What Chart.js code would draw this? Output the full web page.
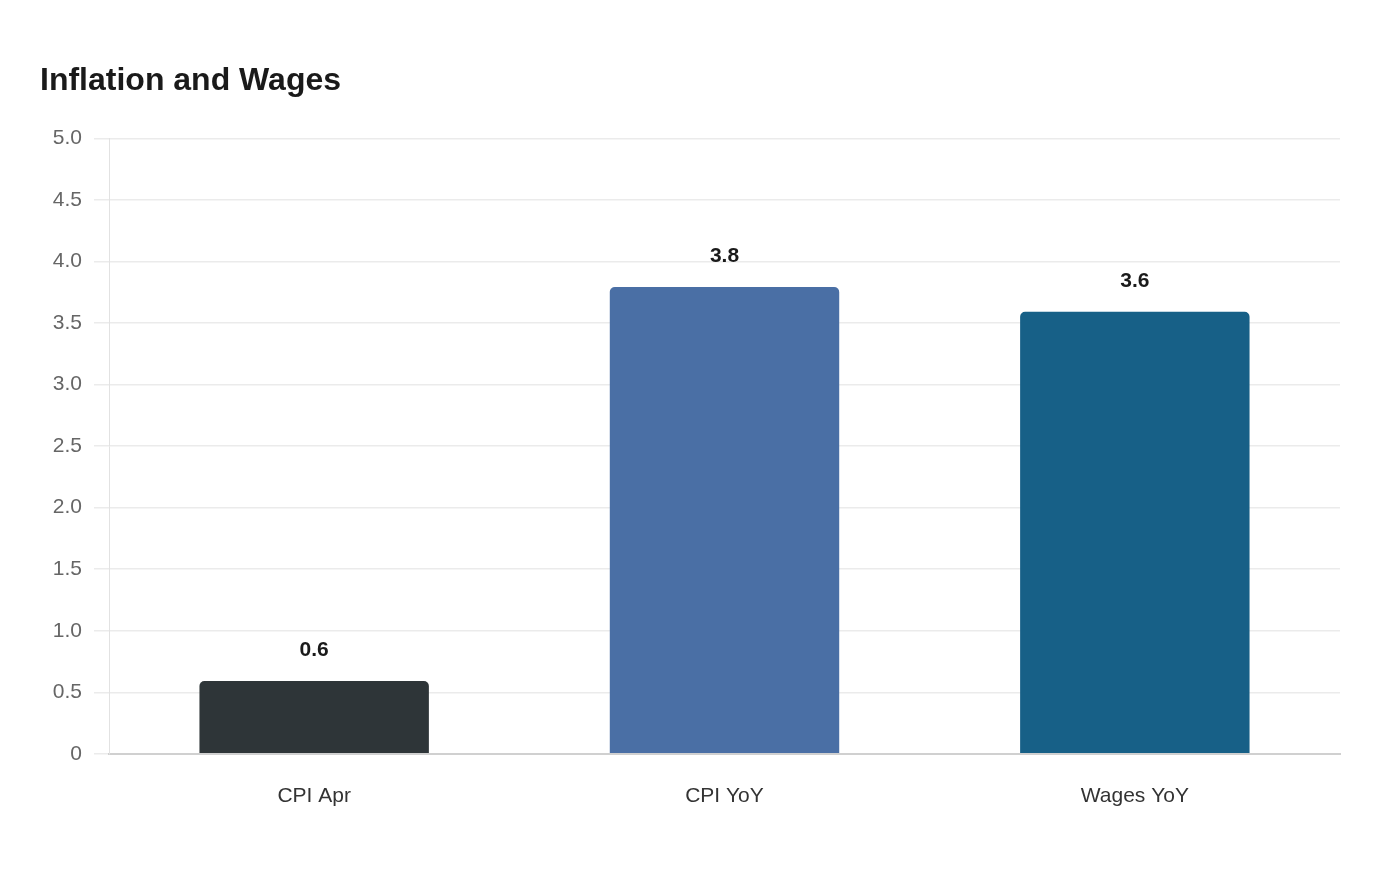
<!DOCTYPE html>
<html>
<head>
<meta charset="utf-8">
<title>Inflation and Wages</title>
<script src="https://cdn.jsdelivr.net/npm/chart.js@4.4.1/dist/chart.umd.min.js"></script>
<style>
  html, body { margin: 0; padding: 0; background: #ffffff; }
  #wrap { width: 1400px; height: 880px; }
</style>
</head>
<body>
<div id="wrap"><canvas id="chart" width="1400" height="880"></canvas></div>
<script>
const categories = ["CPI Apr", "CPI YoY", "Wages YoY"];
const values = [0.6, 3.8, 3.6];
const barColors = ["#2e3538", "#4a6fa5", "#176087"];
const yTicks = [0, 0.5, 1.0, 1.5, 2.0, 2.5, 3.0, 3.5, 4.0, 4.5, 5.0];

const FONT = "'Liberation Sans', Arial, Helvetica, sans-serif";

// draws the value above each bar
const valueLabels = {
  id: "valueLabels",
  afterDatasetsDraw(chart) {
    const ctx = chart.ctx;
    const meta = chart.getDatasetMeta(0);
    ctx.save();
    ctx.font = "bold 21px " + FONT;
    ctx.fillStyle = "#1a1a1a";
    ctx.textAlign = "center";
    ctx.textBaseline = "middle";
    meta.data.forEach((bar, i) => {
      ctx.fillText(values[i].toFixed(1), bar.x, bar.y - 30);
    });
    ctx.restore();
  }
};

const ctx = document.querySelector("#chart").getContext("2d");

new Chart(ctx, {
  type: "bar",
  data: {
    labels: categories,
    datasets: [
      {
        data: values,
        backgroundColor: barColors,
        borderColor: "rgba(255,255,255,0.12)",
        borderWidth: 1,
        borderRadius: { topLeft: 6, topRight: 6 },
        borderSkipped: "start",
        categoryPercentage: 0.8,
        barPercentage: 0.705,
      },
    ],
  },
  options: {
    responsive: false,
    animation: false,
    devicePixelRatio: 1,
    layout: { padding: { left: 40, right: 60, top: 0, bottom: 41 } },
    plugins: {
      legend: { display: false },
      tooltip: { enabled: false },
      title: {
        display: true,
        text: "Inflation and Wages",
        align: "start",
        color: "#1a1a1a",
        font: { family: FONT, size: 32, weight: "bold" },
        padding: { top: 62, bottom: 38 },
      },
    },
    scales: {
      x: {
        grid: { display: false, drawTicks: false },
        border: { display: true, color: "#d0d0d0", width: 2 },
        ticks: {
          color: "#333333",
          padding: 30,
          font: { family: FONT, size: 21 },
        },
      },
      y: {
        min: 0,
        max: 5,
        afterBuildTicks(scale) {
          scale.ticks = yTicks.map((v) => ({ value: v }));
        },
        afterFit(scale) {
          scale.width = 69;
        },
        grid: { color: "#ebebeb", lineWidth: 1.5, tickLength: 15 },
        border: { display: true, color: "#e2e2e2", width: 1 },
        ticks: {
          color: "#666666",
          padding: 12,
          font: { family: FONT, size: 21 },
          callback: (v) => (v === 0 ? "0" : v.toFixed(1)),
        },
      },
    },
  },
  plugins: [valueLabels],
});
</script>
</body>
</html>
